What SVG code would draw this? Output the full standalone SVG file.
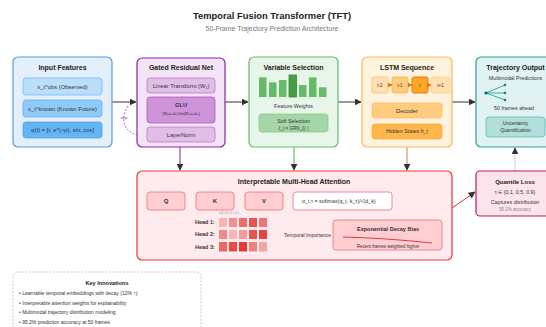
<svg xmlns="http://www.w3.org/2000/svg" width="546" height="327" viewBox="0 0 546 327">
<defs>
<marker id="ah" viewBox="0 0 10 10" refX="9" refY="5" markerWidth="7" markerHeight="7" markerUnits="userSpaceOnUse" orient="auto"><path d="M0,0 L10,5 L0,10 z" fill="#333"/></marker>
<marker id="oh" viewBox="0 0 10 10" refX="9" refY="5" markerWidth="5" markerHeight="5" markerUnits="userSpaceOnUse" orient="auto"><path d="M0,0 L10,5 L0,10 z" fill="#ef6c00"/></marker>
<style>
text{font-family:"Liberation Sans",Arial,sans-serif;fill:#333}
.t{font-size:7px;font-weight:bold;fill:#222;text-anchor:middle}
.s{font-size:5.8px;text-anchor:middle}
.m{font-size:5.3px;text-anchor:middle}
.b{font-weight:bold}
.c{stroke:#333;stroke-width:1;fill:none}
</style>
</defs>
<rect width="546" height="327" fill="#fff"/>
<text x="272" y="19" style="font-size:9.4px;font-weight:bold;fill:#222;text-anchor:middle">Temporal Fusion Transformer (TFT)</text>
<text x="272" y="31" style="font-size:6.9px;fill:#777;text-anchor:middle">50-Frame Trajectory Prediction Architecture</text>

<g id="connectors">
<line class="c" x1="112" y1="102" x2="136" y2="102" marker-end="url(#ah)"/>
<path d="M128,106 C119,120 124,136 146,136" fill="none" stroke="#9c27b0" stroke-width="0.7" stroke-dasharray="2,1.5"/>
<text x="124" y="119" style="font-size:4px;fill:#9c27b0;text-anchor:middle">skip</text>
<line class="c" x1="225" y1="102" x2="248" y2="102" marker-end="url(#ah)"/>
<line class="c" x1="338" y1="102" x2="361" y2="102" marker-end="url(#ah)"/>
<line class="c" x1="452" y1="102" x2="475" y2="102" marker-end="url(#ah)"/>
<line x1="180" y1="147" x2="180" y2="170" stroke="#7b1fa2" stroke-width="1" marker-end="url(#ah)"/>
<line x1="294" y1="147" x2="294" y2="170" stroke="#4caf50" stroke-width="1" marker-end="url(#ah)"/>
<line x1="407" y1="147" x2="407" y2="170" stroke="#b5895a" stroke-width="1" marker-end="url(#ah)"/>
<line x1="442" y1="215" x2="475" y2="192" stroke="#d32f2f" stroke-width="1" marker-end="url(#ah)"/>
<line x1="515" y1="171" x2="515" y2="148" stroke="#d48aa6" stroke-width="1" stroke-dasharray="1.2,1.2" marker-end="url(#ah)"/>
</g>

<g id="input-features">
<rect x="13" y="57" width="99" height="90" rx="5" fill="#e3f0fc" stroke="#5b9bd5" stroke-width="1.2"/>
<text class="t" x="62.5" y="70">Input Features</text>
<rect x="23" y="78" width="79" height="17" rx="3" fill="#bbdefb" stroke="#64b5f6" stroke-width="0.7"/>
<text class="s" x="62.5" y="88.5">x_t^obs (Observed)</text>
<rect x="23" y="100" width="79" height="17" rx="3" fill="#90caf9" stroke="#5ea8e8" stroke-width="0.7"/>
<text class="s" x="62.5" y="110.5">x_t^known (Known Future)</text>
<rect x="23" y="122" width="79" height="16" rx="3" fill="#64b5f6" stroke="#4a9be0" stroke-width="0.7"/>
<text class="s" x="62.5" y="132">φ(t) = [t, e^(-γt), sin, cos]</text>
</g>

<g id="grn">
<rect x="137" y="58" width="88" height="89" rx="5" fill="#f3e5f5" stroke="#8e24aa" stroke-width="1.2"/>
<text class="t" x="181" y="70">Gated Residual Net</text>
<rect x="147" y="78" width="68" height="15" rx="3" fill="#e1bee7" stroke="#ba68c8" stroke-width="0.7"/>
<text class="s" x="181" y="87.5">Linear Transform (W₁)</text>
<rect x="147" y="97" width="68" height="26" rx="3" fill="#ce93d8" stroke="#ab47bc" stroke-width="0.7"/>
<text class="s b" x="181" y="106.5">GLU</text>
<text x="181" y="115" style="font-size:4px;text-anchor:middle">(W₁a+b₁)⊙σ(W₂a+b₂)</text>
<rect x="147" y="127" width="68" height="15" rx="3" fill="#e1bee7" stroke="#ba68c8" stroke-width="0.7"/>
<text class="s" x="181" y="136.5">LayerNorm</text>
</g>

<g id="variable-selection">
<rect x="249" y="57" width="89" height="90" rx="5" fill="#e8f5e9" stroke="#66bb6a" stroke-width="1.2"/>
<text class="t" x="293.5" y="70">Variable Selection</text>
<g fill="#66bb6a">
<rect x="259" y="77.3" width="7.5" height="19.7"/>
<rect x="269" y="82.3" width="7.5" height="14.7"/>
<rect x="279" y="80" width="7.5" height="17"/>
<rect x="289" y="75" width="7.5" height="22" fill="#43a047" stroke="#2e7d32" stroke-width="0.7"/>
<rect x="299" y="85" width="7.5" height="12"/>
<rect x="309" y="77.3" width="7.5" height="19.7"/>
<rect x="319" y="87.3" width="7.5" height="9.7"/>
</g>
<text class="m" x="293.5" y="107.5">Feature Weights</text>
<rect x="259" y="114" width="69" height="18" rx="3" fill="#a5d6a7" stroke="#81c784" stroke-width="0.7"/>
<text class="m" x="293.5" y="122.5">Soft Selection</text>
<text x="293.5" y="129.5" style="font-size:4.5px;text-anchor:middle">ξ_t = GRN_ξ(·)</text>
</g>

<g id="lstm">
<rect x="362" y="57" width="90" height="90" rx="5" fill="#fff3e0" stroke="#ffb74d" stroke-width="1.2"/>
<text class="t" x="407" y="70">LSTM Sequence</text>
<rect x="372" y="77" width="16" height="16" rx="2" fill="#ffe0b2" stroke="#ffb74d" stroke-width="0.7"/>
<text x="380" y="86.8" style="font-size:4.5px;text-anchor:middle">t-2</text>
<rect x="392" y="77" width="16" height="16" rx="2" fill="#ffcc80" stroke="#ffa726" stroke-width="0.7"/>
<text x="400" y="86.8" style="font-size:4.5px;text-anchor:middle">t-1</text>
<rect x="412" y="77" width="16" height="16" rx="2" fill="#ffa726" stroke="#ef6c00" stroke-width="0.9"/>
<text x="420" y="86.8" style="font-size:4.5px;text-anchor:middle">t</text>
<rect x="431" y="77" width="19" height="16" rx="2" fill="#ffe0b2" stroke="#ffb74d" stroke-width="0.7" stroke-dasharray="1.5,1"/>
<text x="440.5" y="86.8" style="font-size:4.5px;text-anchor:middle">t+1</text>
<line x1="388" y1="85" x2="392" y2="85" stroke="#ef6c00" stroke-width="0.8" marker-end="url(#oh)"/>
<line x1="408" y1="85" x2="412" y2="85" stroke="#ef6c00" stroke-width="0.8" marker-end="url(#oh)"/>
<line x1="428" y1="85" x2="431" y2="85" stroke="#ef6c00" stroke-width="0.8" marker-end="url(#oh)"/>
<rect x="372" y="103" width="70" height="15" rx="3" fill="#ffcc80" stroke="#ffb74d" stroke-width="0.7"/>
<text class="s" x="407" y="112.5">Decoder</text>
<rect x="372" y="124" width="70" height="15" rx="3" fill="#ffb74d" stroke="#ffa726" stroke-width="0.7"/>
<text class="m" x="407" y="133">Hidden States h_t</text>
</g>

<g id="trajectory-output">
<rect x="476" y="57" width="80" height="90" rx="5" fill="#e0f2f1" stroke="#26a69a" stroke-width="1.2"/>
<text class="t" x="515.5" y="70">Trajectory Output</text>
<text class="m" x="515.5" y="80">Multimodal Predictions</text>
<g stroke="#26a69a" stroke-width="0.9">
<line x1="486" y1="93" x2="505" y2="85"/>
<line x1="486" y1="93" x2="505" y2="93"/>
<line x1="486" y1="93" x2="505" y2="100"/>
</g>
<circle cx="486" cy="93" r="1.6" fill="#00695c"/>
<circle cx="505" cy="85" r="1.3" fill="#00897b"/>
<circle cx="505" cy="93" r="1.3" fill="#00897b"/>
<circle cx="505" cy="100" r="1.3" fill="#00897b"/>
<text class="m" x="514" y="109.5">50 frames ahead</text>
<rect x="486" y="117" width="59" height="20" rx="3" fill="#b2dfdb" stroke="#4db6ac" stroke-width="0.7"/>
<text x="515.5" y="125" style="font-size:5px;text-anchor:middle">Uncertainty</text>
<text x="515.5" y="132" style="font-size:5px;text-anchor:middle">Quantification</text>
</g>

<g id="attention">
<rect x="137" y="171" width="315" height="89" rx="5" fill="#ffebee" stroke="#e53935" stroke-width="1.2"/>
<text class="t" x="294" y="184">Interpretable Multi-Head Attention</text>
<rect x="147" y="192" width="38" height="18" rx="3" fill="#ffcdd2" stroke="#e57373" stroke-width="0.8"/>
<text x="166" y="203" style="font-size:6px;font-weight:bold;text-anchor:middle">Q</text>
<rect x="196" y="192" width="38" height="18" rx="3" fill="#ffcdd2" stroke="#e57373" stroke-width="0.8"/>
<text x="215" y="203" style="font-size:6px;font-weight:bold;text-anchor:middle">K</text>
<rect x="245" y="192" width="38" height="18" rx="3" fill="#ffcdd2" stroke="#e57373" stroke-width="0.8"/>
<text x="264" y="203" style="font-size:6px;font-weight:bold;text-anchor:middle">V</text>
<rect x="293" y="192" width="99" height="18" rx="3" fill="#fff" stroke="#e57373" stroke-width="0.8"/>
<text x="302" y="203" style="font-size:5.3px">α_t,τ = softmax(q_t, k_τ)/√(d_k)</text>
<text x="229" y="214" style="font-size:3.3px;fill:#888;text-anchor:middle">t-4 t-3 t-2 t-1 t</text>
<text x="195" y="224" style="font-size:5.5px;font-weight:bold">Head 1:</text>
<text x="195" y="236" style="font-size:5.5px;font-weight:bold">Head 2:</text>
<text x="195" y="249" style="font-size:5.5px;font-weight:bold">Head 3:</text>
<g fill="#e53935">
<rect x="219" y="218" width="8" height="9" fill-opacity="0.3"/>
<rect x="229" y="218" width="8" height="9" fill-opacity="0.5"/>
<rect x="239" y="218" width="8" height="9" fill-opacity="0.7"/>
<rect x="249" y="218" width="8" height="9" fill-opacity="0.85"/>
<rect x="259" y="218" width="8" height="9" fill-opacity="0.65"/>
<rect x="219" y="230" width="8" height="9" fill-opacity="0.55"/>
<rect x="229" y="230" width="8" height="9" fill-opacity="0.3"/>
<rect x="239" y="230" width="8" height="9" fill-opacity="0.45"/>
<rect x="249" y="230" width="8" height="9" fill-opacity="0.85"/>
<rect x="259" y="230" width="8" height="9" fill-opacity="0.95"/>
<rect x="219" y="242" width="8" height="9.5" fill-opacity="0.75"/>
<rect x="229" y="242" width="8" height="9.5" fill-opacity="0.9"/>
<rect x="239" y="242" width="8" height="9.5" fill-opacity="1"/>
<rect x="249" y="242" width="8" height="9.5" fill-opacity="0.6"/>
<rect x="259" y="242" width="8" height="9.5" fill-opacity="0.4"/>
</g>
<text x="284" y="237" style="font-size:5px">Temporal Importance</text>
<rect x="333" y="220" width="109" height="30" rx="3" fill="#ffcdd2" stroke="#e57373" stroke-width="0.8"/>
<text x="388" y="231" style="font-size:5.5px;font-weight:bold;text-anchor:middle">Exponential Decay Bias</text>
<path d="M343,237 Q385,238 432,243" fill="none" stroke="#d32f2f" stroke-width="0.9"/>
<text x="388" y="247.5" style="font-size:4.5px;text-anchor:middle">Recent frames weighted higher</text>
</g>

<g id="quantile-loss">
<rect x="476" y="171" width="80" height="45" rx="4" fill="#fce4ec" stroke="#c2185b" stroke-width="1.2"/>
<text x="515" y="184" style="font-size:6px;font-weight:bold;fill:#222;text-anchor:middle">Quantile Loss</text>
<text x="515" y="194" style="font-size:5.3px;text-anchor:middle">τ ∈ {0.1, 0.5, 0.9}</text>
<text x="515" y="203.5" style="font-size:5.3px;text-anchor:middle">Captures distribution</text>
<text x="515" y="210.5" style="font-size:4.5px;fill:#888;text-anchor:middle">95.2% accuracy</text>
</g>

<g id="key-innovations">
<rect x="13" y="272" width="188" height="70" rx="5" fill="#fff" stroke="#bbb" stroke-width="0.8" stroke-dasharray="2,1.5"/>
<text x="107" y="284.5" style="font-size:5.6px;font-weight:bold;fill:#222;text-anchor:middle">Key Innovations</text>
<text x="19" y="294.5" style="font-size:5px">• Learnable temporal embeddings with decay (12% ↑)</text>
<text x="19" y="304.5" style="font-size:5px">• Interpretable attention weights for explainability</text>
<text x="19" y="314" style="font-size:5px">• Multimodal trajectory distribution modeling</text>
<text x="19" y="323.5" style="font-size:5px">• 95.2% prediction accuracy at 50 frames</text>
</g>
</svg>
